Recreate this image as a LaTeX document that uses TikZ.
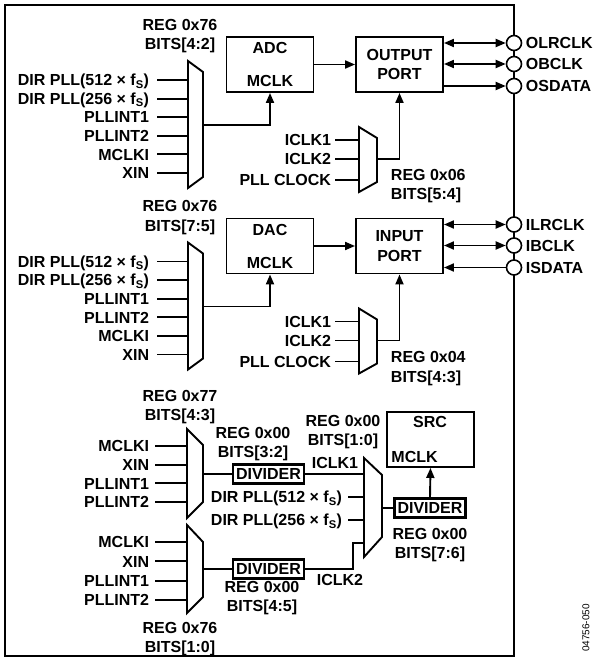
\documentclass[tikz,border=0pt]{standalone}
\usepackage{fontspec}
\setmainfont{Liberation Sans}
\usetikzlibrary{arrows.meta}
\newcommand{\lblfont}{\fontsize{16}{19.5}\selectfont\bfseries}
\newcommand{\myfs}{f\textsubscript{S}}
\begin{document}
\begin{tikzpicture}[x=1pt,y=-1pt,line width=1.9pt,
  lbl/.style={font=\lblfont, inner sep=0pt, text height=11.5pt, text depth=0pt},
  inl/.style={lbl, anchor=east, inner xsep=#1},
  reg/.style={font=\lblfont, inner sep=0pt, align=center, anchor=north},
  blk/.style={draw, line width=1.9pt, inner sep=0pt, minimum width=87pt, minimum height=55pt},
  portbox/.style={blk, font=\lblfont, align=center},
  divbox/.style={draw, line width=2.3pt, minimum width=71pt, minimum height=19pt, inner sep=0pt, font=\lblfont, text height=11.5pt, text depth=0pt},
  pin/.style={circle, draw, line width=1.6pt, fill=white, minimum size=15pt, inner sep=0pt},
  mux/.style={draw, line width=1.9pt, fill=white},
  arr/.style={-{Triangle[length=10pt,width=8pt]}},
  darr/.style={{Triangle[length=10pt,width=8pt]}-{Triangle[length=10pt,width=8pt]}}]
\useasboundingbox (0,0) rectangle (593,660);

% frame
\draw[line width=1.9pt] (5,5) rectangle (514,656);

% ================= Section 1: ADC / OUTPUT PORT =================
\node[reg] (r1) at (180,18) {REG 0x76\\BITS[4:2]};
\draw[mux] (188,61) coordinate (m1tl) -- (203,72) -- (203,177) -- (188,188) -- cycle;
\coordinate (m1out) at (203,125);
\foreach \y/\t [count=\i] in {80/{DIR PLL(512 × \myfs)},98.6/{DIR PLL(256 × \myfs)},117.2/PLLINT1,135.8/PLLINT2,154.4/MCLKI,173/XIN}{
  \node[inl=7pt] (m1in\i) at (157,\y) {\t};
  \draw (m1in\i.east) -- (m1in\i.east -| m1tl);
}
\node[blk] (adc) at (270,64.5) {};
\node[lbl] (adct) at (270,48) {ADC};
\node[lbl] (adcm) at (270,81) {MCLK};
\draw[arr] (m1out) -| (adc.south);
\node[portbox] (op) at (399.5,64.5) {OUTPUT\\PORT};
\draw[arr] (adc.east) -- (op.west);
\node[pin] (olr) at (514,43) {};
\node[pin] (obc) at (514,64) {};
\node[pin] (osd) at (514,86) {};
\node[lbl, anchor=west] (olrt) at (525,43) {OLRCLK};
\node[lbl, anchor=west] (obct) at (525,64) {OBCLK};
\node[lbl, anchor=west] (osdt) at (525,86) {OSDATA};
\draw[darr] (op.east |- olr) -- (olr.west);
\draw[darr] (op.east |- obc) -- (obc.west);
\draw[arr] (op.east |- osd) -- (osd.west);
\draw[mux] (359,127) coordinate (s1tl) -- (377,138) -- (377,182) -- (359,192) -- cycle;
\coordinate (s1out) at (377,159);
\foreach \y/\t [count=\i] in {140/ICLK1,159/ICLK2,180/PLL CLOCK}{
  \node[inl=3pt] (s1in\i) at (335,\y) {\t};
  \draw (s1in\i.east) -- (s1in\i.east -| s1tl);
}
\draw[arr] (s1out) -| (op.south);
\node[reg, align=left, anchor=north west] (r2) at (390,168) {REG 0x06\\BITS[5:4]};

% ================= Section 2: DAC / INPUT PORT =================
\node[reg] (r3) at (180,199.5) {REG 0x76\\BITS[7:5]};
\draw[mux] (188,242.5) coordinate (m2tl) -- (203,253.5) -- (203,358.5) -- (188,369.5) -- cycle;
\coordinate (m2out) at (203,306.5);
\foreach \y/\t [count=\i] in {261.5/{DIR PLL(512 × \myfs)},280.1/{DIR PLL(256 × \myfs)},298.7/PLLINT1,317.3/PLLINT2,335.9/MCLKI,354.5/XIN}{
  \node[inl=7pt] (m2in\i) at (157,\y) {\t};
  \draw (m2in\i.east) -- (m2in\i.east -| m2tl);
}
\node[blk] (dac) at (270,246) {};
\node[lbl] (dact) at (270,229.5) {DAC};
\node[lbl] (dacm) at (270,262.5) {MCLK};
\draw[arr] (m2out) -| (dac.south);
\node[portbox] (ip) at (399.5,246) {INPUT\\PORT};
\draw[arr] (dac.east) -- (ip.west);
\node[pin] (ilr) at (514,224.5) {};
\node[pin] (ibc) at (514,245.5) {};
\node[pin] (isd) at (514,267.5) {};
\node[lbl, anchor=west] (ilrt) at (525,224.5) {ILRCLK};
\node[lbl, anchor=west] (ibct) at (525,245.5) {IBCLK};
\node[lbl, anchor=west] (isdt) at (525,267.5) {ISDATA};
\draw[darr] (ip.east |- ilr) -- (ilr.west);
\draw[darr] (ip.east |- ibc) -- (ibc.west);
\draw[arr] (isd.west) -- (ip.east |- isd);
\draw[mux] (359,308.5) coordinate (s2tl) -- (377,319.5) -- (377,363.5) -- (359,373.5) -- cycle;
\coordinate (s2out) at (377,340.5);
\foreach \y/\t [count=\i] in {321.5/ICLK1,340.5/ICLK2,361.5/PLL CLOCK}{
  \node[inl=3pt] (s2in\i) at (335,\y) {\t};
  \draw (s2in\i.east) -- (s2in\i.east -| s2tl);
}
\draw[arr] (s2out) -| (ip.south);
\node[reg, align=left, anchor=north west] (r4) at (390,350.5) {REG 0x04\\BITS[4:3]};

% ================= Section 3: SRC =================
\node[reg] (r5) at (180,389) {REG 0x77\\BITS[4:3]};
\draw[mux] (187,429) coordinate (m3tl) -- (203,445) -- (203,502) -- (187,518) -- cycle;
\coordinate (m3out) at (203,474);
\foreach \y/\t [count=\i] in {446/MCLKI,464.7/XIN,483.3/PLLINT1,502/PLLINT2}{
  \node[inl=5pt] (m3in\i) at (155,\y) {\t};
  \draw (m3in\i.east) -- (m3in\i.east -| m3tl);
}
\draw[mux] (187,525) coordinate (m4tl) -- (203,542) -- (203,597) -- (187,613) -- cycle;
\coordinate (m4out) at (203,569);
\foreach \y/\t [count=\i] in {542/MCLKI,561.3/XIN,580.6/PLLINT1,600/PLLINT2}{
  \node[inl=5pt] (m4in\i) at (155,\y) {\t};
  \draw (m4in\i.east) -- (m4in\i.east -| m4tl);
}
\node[divbox] (div1) at (268.5,474) {DIVIDER};
\node[divbox] (div2) at (268.5,569) {DIVIDER};
\draw (m3out) -- (div1.west);
\draw (m4out) -- (div2.west);
\node[reg] (r6) at (253,426) {REG 0x00\\BITS[3:2]};
\node[reg] (r7) at (262,580) {REG 0x00\\BITS[4:5]};
\node[reg] (r8) at (180,621) {REG 0x76\\BITS[1:0]};

\draw[mux] (364,458) coordinate (m5tl) -- (382,475) -- (382,537) -- (364,557) -- cycle;
\coordinate (m5out) at (382,508);
\draw (div1.east) -- (div1.east -| m5tl);
\node[lbl] (k1t) at (335,463) {ICLK1};
\node[inl=5pt] (d512) at (348,497) {DIR PLL(512 × \myfs)};
\draw (d512.east) -- (d512.east -| m5tl);
\node[inl=5pt] (d256) at (348,520) {DIR PLL(256 × \myfs)};
\draw (d256.east) -- (d256.east -| m5tl);
\coordinate (k2) at (353,543);
\draw (div2.east) -| (k2) -- (k2 -| m5tl);
\node[lbl] (k2t) at (340,580) {ICLK2};
\node[divbox] (div3) at (430,508) {DIVIDER};
\draw (m5out) -- (div3.west);
\node[blk] (src) at (430.5,439.5) {};
\node[lbl] (srct) at (430,422) {SRC};
\node[lbl, anchor=west] (srcm) at (390.5,457) {MCLK};
\draw[arr] (div3.north) -- (src.south);
\node[reg] (r9) at (343,414) {REG 0x00\\BITS[1:0]};
\node[reg] (r10) at (430,527) {REG 0x00\\BITS[7:6]};

\node[rotate=90, inner sep=0pt, font=\fontsize{10}{10}\selectfont] (code) at (586,628) {04756-050};
\end{tikzpicture}
\end{document}
